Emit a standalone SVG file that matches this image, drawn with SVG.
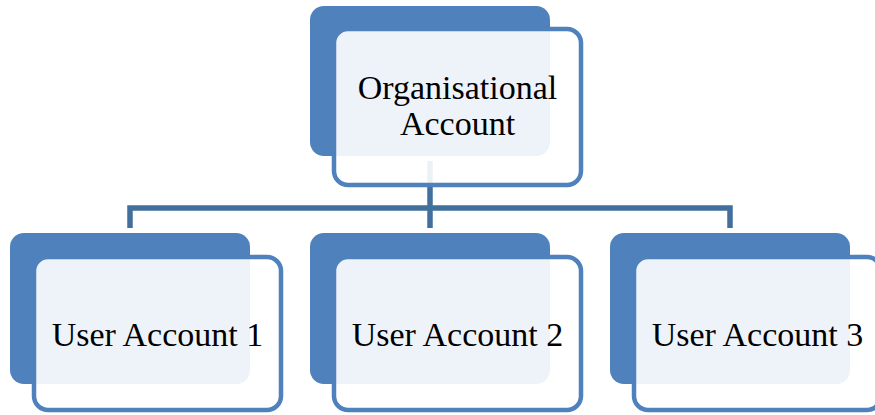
<svg xmlns="http://www.w3.org/2000/svg" width="875" height="415" viewBox="0 0 875 415">
<style>
.back{fill:#4f81bd}
.front{fill:#ffffff;fill-opacity:0.9;stroke:#4f81bd;stroke-width:4.5}
.conn{fill:none;stroke:#41709c;stroke-width:5.5}
text{font-family:"Liberation Serif","Times New Roman",serif;font-size:34px;fill:#000;text-anchor:middle}
</style>
<rect width="875" height="415" fill="#ffffff"/>
<g id="connectors">
<path class="conn" d="M430 161 V228"/>
<path class="conn" d="M130 228 V208 H730 V228"/>
</g>
<g id="org">
<rect class="back" x="310" y="6" width="240" height="150" rx="14"/>
<rect class="front" x="334" y="29" width="247" height="156" rx="14"/>
<text x="457.5" y="99">Organisational</text>
<text x="457.5" y="135">Account</text>
</g>
<g id="user1">
<rect class="back" x="10" y="233" width="240" height="151" rx="14"/>
<rect class="front" x="34" y="257" width="247" height="153" rx="14"/>
<text x="157.5" y="346">User Account 1</text>
</g>
<g id="user2">
<rect class="back" x="310" y="233" width="240" height="151" rx="14"/>
<rect class="front" x="334" y="257" width="247" height="153" rx="14"/>
<text x="457.5" y="346">User Account 2</text>
</g>
<g id="user3">
<rect class="back" x="610" y="233" width="240" height="151" rx="14"/>
<rect class="front" x="634" y="257" width="247" height="153" rx="14"/>
<text x="757.5" y="346">User Account 3</text>
</g>
</svg>
